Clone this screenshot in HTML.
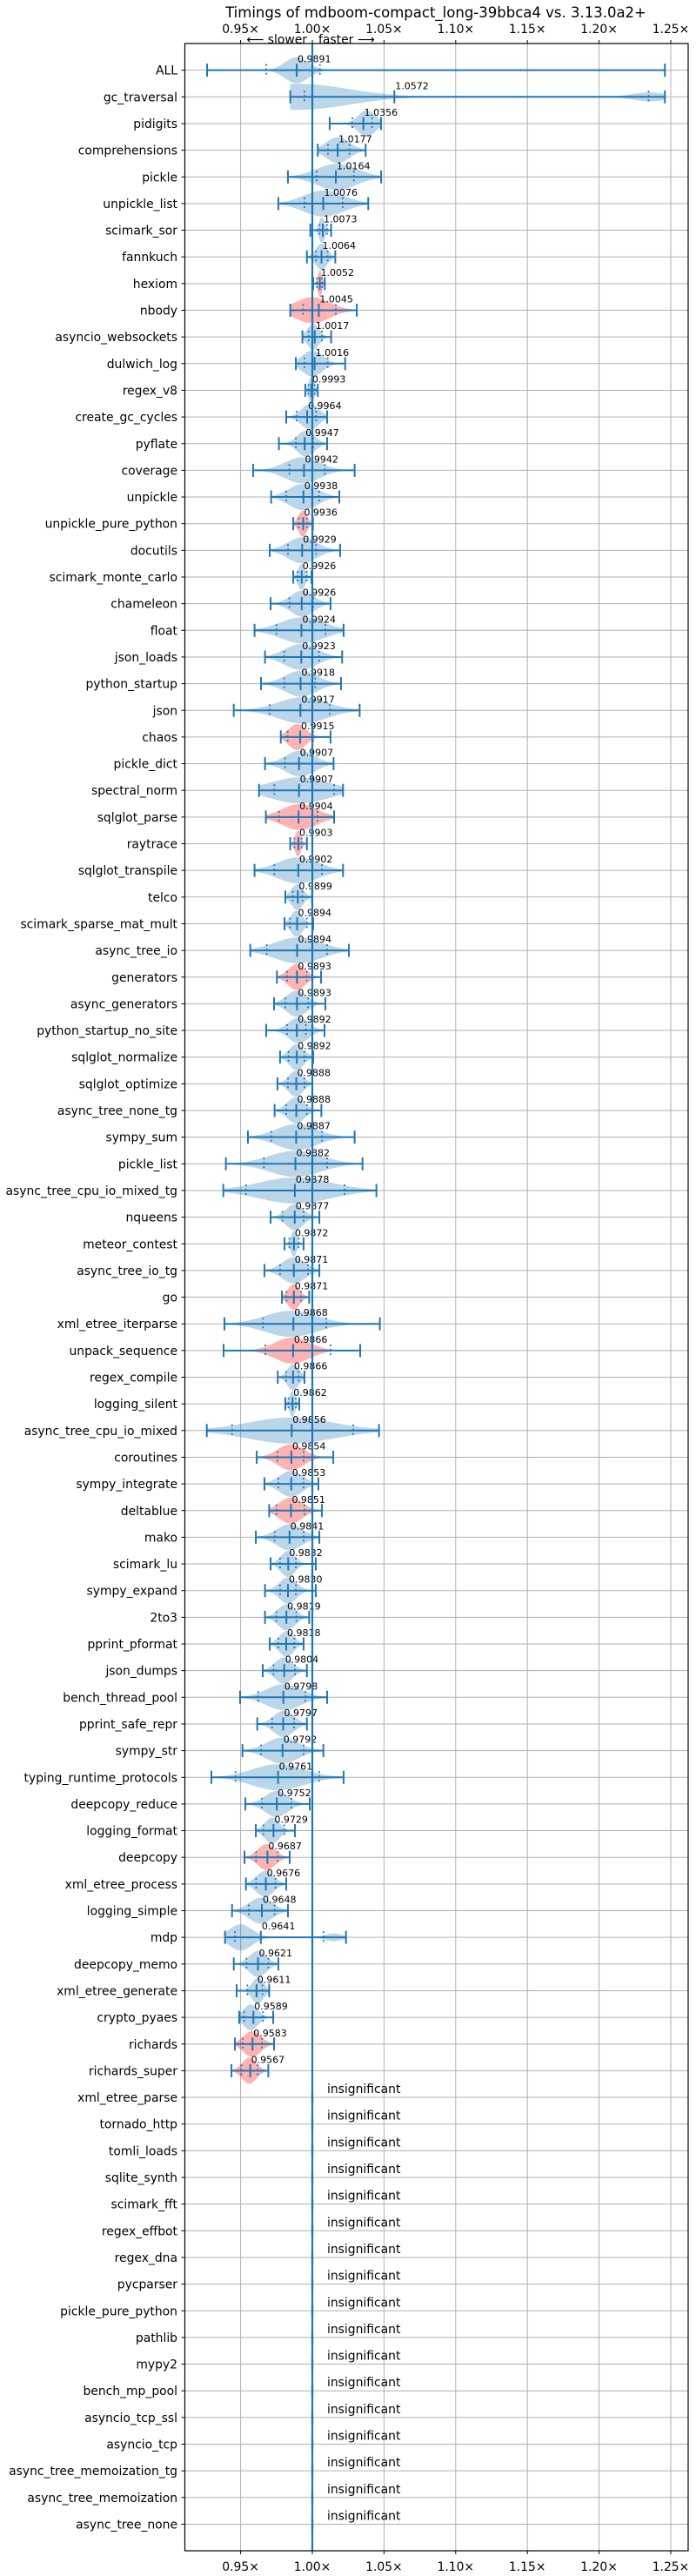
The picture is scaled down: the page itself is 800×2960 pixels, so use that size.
<!DOCTYPE html>
<html><head><meta charset="utf-8"><title>Timings chart</title>
<style>
html,body{margin:0;padding:0;background:#fff;}
svg{display:block;font-family:"DejaVu Sans","Liberation Sans",sans-serif;}
</style></head>
<body>
<svg id="chart" width="800" height="2960" viewBox="0 0 800 2960" xmlns="http://www.w3.org/2000/svg">
<text x="501" y="20" font-size="16.5" text-anchor="middle" fill="#000">Timings of mdboom-compact_long-39bbca4 vs. 3.13.0a2+</text>
<g id="grid"></g>
<g id="rows"></g>
<g id="axes"></g>
</svg>
<script>
const names = ["ALL","gc_traversal","pidigits","comprehensions","pickle","unpickle_list","scimark_sor","fannkuch","hexiom","nbody","asyncio_websockets","dulwich_log","regex_v8","create_gc_cycles","pyflate","coverage","unpickle","unpickle_pure_python","docutils","scimark_monte_carlo","chameleon","float","json_loads","python_startup","json","chaos","pickle_dict","spectral_norm","sqlglot_parse","raytrace","sqlglot_transpile","telco","scimark_sparse_mat_mult","async_tree_io","generators","async_generators","python_startup_no_site","sqlglot_normalize","sqlglot_optimize","async_tree_none_tg","sympy_sum","pickle_list","async_tree_cpu_io_mixed_tg","nqueens","meteor_contest","async_tree_io_tg","go","xml_etree_iterparse","unpack_sequence","regex_compile","logging_silent","async_tree_cpu_io_mixed","coroutines","sympy_integrate","deltablue","mako","scimark_lu","sympy_expand","2to3","pprint_pformat","json_dumps","bench_thread_pool","pprint_safe_repr","sympy_str","typing_runtime_protocols","deepcopy_reduce","logging_format","deepcopy","xml_etree_process","logging_simple","mdp","deepcopy_memo","xml_etree_generate","crypto_pyaes","richards","richards_super"];
const insignificant = ["xml_etree_parse","tornado_http","tomli_loads","sqlite_synth","scimark_fft","regex_effbot","regex_dna","pycparser","pickle_pure_python","pathlib","mypy2","bench_mp_pool","asyncio_tcp_ssl","asyncio_tcp","async_tree_memoization_tg","async_tree_memoization","async_tree_none"];
const means = [0.9891,1.0572,1.0356,1.0177,1.0164,1.0076,1.0073,1.0064,1.0052,1.0045,1.0017,1.0016,0.9993,0.9964,0.9947,0.9942,0.9938,0.9936,0.9929,0.9926,0.9926,0.9924,0.9923,0.9918,0.9917,0.9915,0.9907,0.9907,0.9904,0.9903,0.9902,0.9899,0.9894,0.9894,0.9893,0.9893,0.9892,0.9892,0.9888,0.9888,0.9887,0.9882,0.9878,0.9877,0.9872,0.9871,0.9871,0.9868,0.9866,0.9866,0.9862,0.9856,0.9854,0.9853,0.9851,0.9841,0.9832,0.9830,0.9819,0.9818,0.9804,0.9798,0.9797,0.9792,0.9761,0.9752,0.9729,0.9687,0.9676,0.9648,0.9641,0.9621,0.9611,0.9589,0.9583,0.9567];
const mins = [0.9266,0.9846,1.0121,1.0038,0.983,0.9763,0.9986,0.9962,1.0006,0.9846,0.9931,0.9885,0.9951,0.9818,0.9767,0.9587,0.9713,0.9867,0.9703,0.9867,0.9709,0.9597,0.967,0.9642,0.9452,0.978,0.967,0.9628,0.9676,0.9846,0.9597,0.9812,0.9806,0.9567,0.9753,0.9733,0.9678,0.9775,0.9757,0.9737,0.9551,0.9397,0.9379,0.9709,0.9806,0.9666,0.9788,0.9387,0.9381,0.9759,0.9812,0.9264,0.9612,0.9666,0.9699,0.9606,0.9709,0.967,0.967,0.9703,0.9654,0.9496,0.9616,0.9513,0.9296,0.9533,0.9606,0.9527,0.9537,0.944,0.9391,0.9452,0.9472,0.949,0.946,0.9436];
const maxs = [1.2459,1.2459,1.0479,1.0372,1.048,1.039,1.0131,1.016,1.0087,1.031,1.0131,1.0229,1.0038,1.0103,1.0103,1.0295,1.0188,1.0004,1.0194,0.9994,1.0127,1.0218,1.0208,1.02,1.033,1.0127,1.0148,1.0214,1.0152,0.9962,1.0214,0.9998,1.0006,1.0255,1.0061,1.0091,1.0085,1.0006,1.0,1.0063,1.0295,1.035,1.0447,1.0049,0.9939,1.0049,0.9978,1.0471,1.0334,0.9945,0.9909,1.0465,1.0146,1.0042,1.0067,1.0049,1.0024,1.0024,0.9978,0.9939,0.9962,1.0103,0.9962,1.0077,1.0218,0.9982,0.9879,0.9842,0.9818,0.983,1.0235,0.9763,0.9699,0.9727,0.9733,0.9693];
const q1s = [0.9678,0.9945,1.0279,1.0109,1.003,0.9945,1.005,1.0026,1.0032,0.9935,0.9974,0.9945,0.9974,0.9891,0.9885,0.984,0.9818,0.9905,0.983,0.9899,0.984,0.9749,0.9804,0.9804,0.9703,0.9828,0.981,0.9735,0.9767,0.9875,0.9735,0.9864,0.9844,0.9682,0.9824,0.9812,0.9824,0.9834,0.983,0.9818,0.9713,0.9662,0.9537,0.9792,0.984,0.9775,0.982,0.9656,0.9672,0.9818,0.9834,0.944,0.9757,0.9763,0.9749,0.9737,0.9775,0.9775,0.9749,0.9763,0.9729,0.9622,0.9719,0.9642,0.9464,0.9648,0.9658,0.9608,0.9608,0.9557,0.946,0.9541,0.9547,0.9525,0.9515,0.9506];
const q3s = [1.0053,1.2345,1.0417,1.0259,1.029,1.0212,1.0103,1.0107,1.0067,1.0164,1.0067,1.0107,1.0016,1.0026,1.0006,1.0087,1.0047,0.9962,1.0026,0.996,1.0006,1.0091,1.0047,1.002,1.0121,1.0006,1.0,1.0152,1.0036,0.9925,1.0067,0.9931,0.9962,1.0103,0.9962,0.997,0.9955,0.9945,0.9945,0.9962,1.0067,1.0103,1.0225,0.9939,0.9905,0.997,0.9921,1.0097,1.0127,0.9905,0.9885,1.0285,0.9939,0.9939,0.9945,0.9939,0.9885,0.9885,0.9889,0.9875,0.9879,0.9951,0.9873,0.9939,1.0049,0.9854,0.9804,0.9759,0.9743,0.9737,1.0079,0.9693,0.9652,0.9656,0.9648,0.9618];
const peaks = [0.989,0.99,1.038,1.0178,1.017,1.008,1.0067,1.0063,1.0053,1.0,1.0006,1.0,0.9994,0.9985,0.9955,0.993,0.9935,0.9933,0.993,0.9925,0.993,0.993,0.992,0.992,0.993,0.9895,0.9915,0.991,0.991,0.99,0.99,0.9895,0.989,0.99,0.9891,0.9891,0.9905,0.989,0.9885,0.9885,0.989,0.988,0.988,0.9877,0.987,0.987,0.987,0.985,0.986,0.9866,0.986,0.985,0.985,0.985,0.985,0.984,0.983,0.983,0.982,0.982,0.98,0.98,0.98,0.979,0.976,0.975,0.972,0.968,0.967,0.964,0.95,0.962,0.962,0.957,0.958,0.956];
const sigmas = [0.008,0.035,0.006,0.008,0.014,0.014,0.002,0.004,0.0015,0.012,0.004,0.007,0.002,0.006,0.006,0.012,0.010,0.003,0.010,0.0025,0.008,0.015,0.011,0.011,0.017,0.006,0.010,0.02,0.012,0.002,0.014,0.004,0.004,0.016,0.006,0.007,0.007,0.005,0.005,0.006,0.014,0.018,0.025,0.006,0.002,0.008,0.004,0.018,0.012,0.004,0.002,0.03,0.009,0.008,0.008,0.009,0.005,0.006,0.006,0.005,0.006,0.012,0.007,0.011,0.018,0.008,0.005,0.006,0.006,0.008,0.008,0.006,0.004,0.005,0.006,0.005];
const redRows = ["hexiom","nbody","unpickle_pure_python","chaos","sqlglot_parse","raytrace","generators","go","unpack_sequence","coroutines","deltablue","deepcopy","richards","richards_super"];
const xTicks = [0.95,1.00,1.05,1.10,1.15,1.20,1.25];
const secondPeaks = {"gc_traversal":[1.235,0.35,0.012],"mdp":[1.015,0.3,0.006]};

const NS="http://www.w3.org/2000/svg";
const L=212.5,R=791,T=50,B=2931,pitch=30.65;
const xs=v=>359+(v-1)*1648;
const ys=i=>T+pitch*(i+1);
function el(tag,attrs,parent){const e=document.createElementNS(NS,tag);for(const k in attrs)e.setAttribute(k,attrs[k]);parent.appendChild(e);return e;}
const grid=document.getElementById('grid'),rows=document.getElementById('rows'),axes=document.getElementById('axes');
const total=names.length+insignificant.length;
// gridlines
xTicks.forEach(t=>{
  const g=el('line',{x1:xs(t),x2:xs(t),y1:T,y2:B,stroke:'#b0b0b0','stroke-width':1},grid);
  
  
  const tt=el('text',{x:xs(t),y:38,'font-size':13.9,'text-anchor':'middle'},axes);tt.textContent=t.toFixed(2)+'\u00d7';
  
  
  const tb=el('text',{x:xs(t),y:2954,'font-size':13.9,'text-anchor':'middle'},axes);tb.textContent=t.toFixed(2)+'\u00d7';
  
  
  el('line',{x1:xs(t),x2:xs(t),y1:B,y2:B+4,stroke:'#000'},axes);
  el('line',{x1:xs(t),x2:xs(t),y1:T,y2:T-4,stroke:'#000'},axes);
});
for(let i=0;i<total;i++){
  const g=el('line',{x1:L,x2:R,y1:ys(i),y2:ys(i),stroke:'#b0b0b0','stroke-width':1},grid);
  
  
}
// rows
const blue='#1f77b4';
names.forEach((n,i)=>{
  const y=ys(i);
  const g=el('g',{},rows);
  
  
  const red=redRows.includes(n);
  const mn=mins[i],mx=maxs[i],pk=peaks[i],sg=sigmas[i];
  const sp=secondPeaks[n];
  const N=80;const top=[],bot=[];
  let vals=[];
  for(let k=0;k<=N;k++){const v=mn+(mx-mn)*k/N;let w=Math.exp(-0.5*Math.pow((v-pk)/sg,2));if(sp)w+=sp[1]*Math.exp(-0.5*Math.pow((v-sp[0])/sp[2],2));vals.push([v,w]);}
  const mw=Math.max(...vals.map(a=>a[1]));
  vals.forEach(([v,w])=>{const h=Math.max(0.6,15*w/mw);top.push(xs(v).toFixed(1)+','+(y-h).toFixed(1));bot.unshift(xs(v).toFixed(1)+','+(y+h).toFixed(1));});
  el('polygon',{points:top.concat(bot).join(' '),fill:red?'#ff0000':blue,'fill-opacity':0.3},g);
  el('line',{x1:xs(mn),x2:xs(mx),y1:y,y2:y,stroke:blue,'stroke-width':2},g);
  [mn,mx,means[i]].forEach(v=>el('line',{x1:xs(v),x2:xs(v),y1:y-7.5,y2:y+7.5,stroke:blue,'stroke-width':2},g));
  [q1s[i],q3s[i]].forEach(v=>el('line',{x1:xs(v),x2:xs(v),y1:y-7,y2:y+7,stroke:blue,'stroke-width':1.8,'stroke-dasharray':'2,3'},g));
  const t=el('text',{x:xs(means[i])+1,y:y-9,'font-size':11,fill:'#000'},g);t.textContent=means[i].toFixed(4);
  const lb=el('text',{x:204,y:y+5,'font-size':13.9,'text-anchor':'end'},rows);lb.textContent=n;
  
  
});
insignificant.forEach((n,j)=>{
  const i=names.length+j,y=ys(i);
  const g=el('g',{},rows);
  
  
  el('rect',{x:xs(1)-1.5,y:y-7,width:3,height:14,fill:blue,'fill-opacity':0.3},g);
  const t=el('text',{x:376,y:y-5,'font-size':13.9},g);t.textContent='insignificant';
  const lb=el('text',{x:204,y:y+5,'font-size':13.9,'text-anchor':'end'},rows);lb.textContent=n;
  
  
});
// baseline
const bl=el('line',{x1:xs(1),x2:xs(1),y1:T,y2:B,stroke:blue,'stroke-width':2.2},axes);


const fr=el('rect',{x:L,y:T,width:R-L,height:B-T,fill:'none',stroke:'#000','stroke-width':1.2},axes);


for(let i=0;i<total;i++)el('line',{x1:L-4,x2:L,y1:ys(i),y2:ys(i),stroke:'#000'},axes);
const sl=el('text',{x:353,y:50,'font-size':13.9,'text-anchor':'end'},axes);sl.textContent='\u27f5 slower';


const fa=el('text',{x:366,y:50,'font-size':13.9},axes);fa.textContent='faster \u27f6';


</script>
</body></html>
